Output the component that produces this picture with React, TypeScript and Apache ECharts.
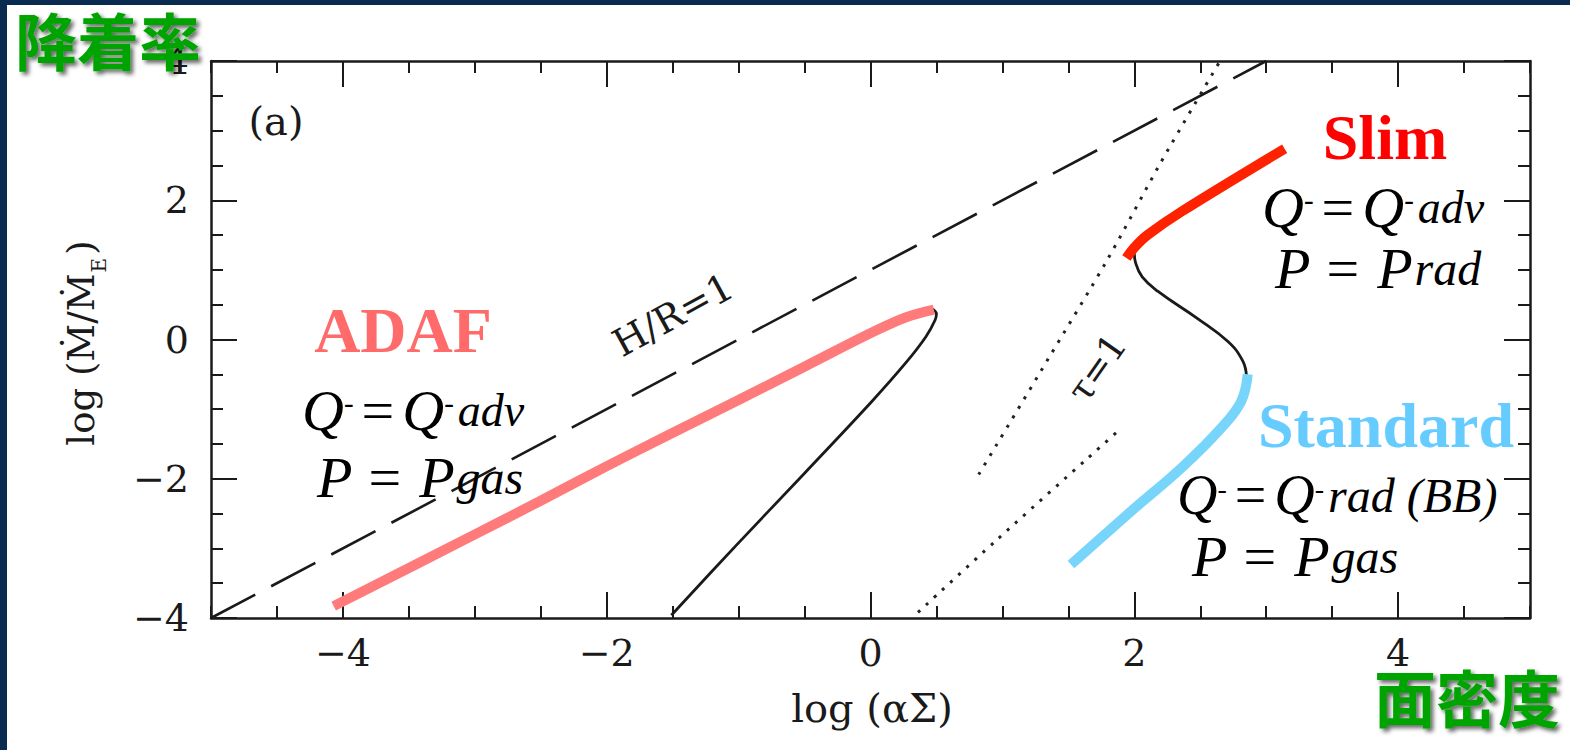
import React, { useEffect, useRef } from 'react';
import * as echarts from 'echarts';

// ---- axis ticks ----
const X_TICKS = [-4, -2, 0, 2, 4];
const Y_TICKS = [-4, -2, 0, 2, 4];

// ---- curves: [log(alpha Sigma), log(Mdot/Mdot_E)] ----
const hrLine = [[-5, -4], [3, 4]];
const tauUpper = [[0.82, -1.94], [1.35, -0.27], [1.8, 1.16], [2.2, 2.54], [2.65, 4]];
const tauLower = [[0.36, -3.92], [0.95, -2.89], [1.88, -1.31]];
const adafBranch = [[0.47, 0.44], [0.5, 0.37], [0.49, 0.28], [0.42, 0.04], [0.27, -0.33], [0.01, -0.89], [-0.5, -1.92], [-1.02, -2.96], [-1.51, -3.96]];
const adafCurve = [[-4.07, -3.83], [-3.01, -2.81], [-2.515, -2.33], [-2.01, -1.83], [-1.51, -1.35], [-1.0, -0.87], [-0.49, -0.38], [0.01, 0.1], [0.27, 0.32], [0.48, 0.43]];
const sBranch = [[2.0, 1.25], [2.01, 1.1], [2.06, 0.9], [2.18, 0.69], [2.48, 0.3], [2.71, -0.03], [2.82, -0.3], [2.85, -0.51]];
const slimCurve = [[1.94, 1.17], [2.0, 1.32], [2.1, 1.5], [2.36, 1.84], [3.14, 2.74]];
const standardCurve = [[2.86, -0.5], [2.81, -0.89], [2.66, -1.27], [2.36, -1.84], [1.98, -2.46], [1.52, -3.23]];

const SERIF = '"Liberation Serif", "Times New Roman", serif';
const AX_FONT = '"DejaVu Serif", serif';
const CJK = '"Noto Sans CJK JP", "Noto Sans CJK SC", sans-serif';
const INK = '#1a1a1a';

const fmt = (v: number) => (v < 0 ? '\u2212' + Math.abs(v) : String(v));

const richFormula = (size: number, subSize: number, eqPad: number[]) => ({
  q: { fontFamily: SERIF, fontStyle: 'italic', fontSize: size, fill: '#000' },
  s: { fontFamily: SERIF, fontSize: Math.round(size * 0.5), fill: '#000', verticalAlign: 'top', padding: [Math.round(size * 0.12), 2, 0, 0] },
  e: { fontFamily: SERIF, fontSize: size, fill: '#000', padding: eqPad },
  b: { fontFamily: SERIF, fontStyle: 'italic', fontSize: subSize, fill: '#000', padding: [0, 0, 0, 2] },
});

const formula = (x: number, y: number, text: string, size = 58, subSize = 46, eqPad = [0, 8, 0, 6]) => ({
  type: 'text', x, y, z: 50,
  style: { text, rich: richFormula(size, subSize, eqPad), align: 'left', verticalAlign: 'middle' },
});

const P_PAD = [0, 18, 0, 16];

const titleText = (x: number, y: number, text: string, fill: string) => ({
  type: 'text', x, y, z: 50,
  style: { text, fontFamily: SERIF, fontWeight: 'bold', fontSize: 64, fill, align: 'center', verticalAlign: 'middle' },
});

const greenText = (x: number, y: number, text: string) => ({
  type: 'text', x, y, z: 300,
  style: {
    text, fontFamily: CJK, fontWeight: 'bold', fontSize: 62, fill: '#00a400',
    align: 'center', verticalAlign: 'middle',
    textShadowColor: 'rgba(0,0,0,0.6)', textShadowBlur: 4, textShadowOffsetX: 3, textShadowOffsetY: 3,
  },
});

function mkX(position: string, major: boolean, labels: boolean) {
  return {
    type: 'value', min: -5, max: 5, position,
    ...(major ? {} : { interval: 0.5 }),
    axisLine: { show: major, onZero: false, lineStyle: { color: INK, width: 2.5 } },
    axisTick: major
      ? { show: true, inside: true, length: 26, customValues: X_TICKS, lineStyle: { color: INK, width: 2 } }
      : { show: true, inside: true, length: 12, lineStyle: { color: INK, width: 2 } },
    axisLabel: labels
      ? { show: true, customValues: X_TICKS, formatter: fmt, fontFamily: AX_FONT, fontSize: 38, color: INK, margin: 16 }
      : { show: false },
    splitLine: { show: false },
  };
}

function mkY(position: string, major: boolean, labels: boolean) {
  return {
    type: 'value', min: -4, max: 4, position,
    interval: major ? 2 : 0.5,
    axisLine: { show: major, onZero: false, lineStyle: { color: INK, width: 2.5 } },
    axisTick: { show: true, inside: true, length: major ? 26 : 12, lineStyle: { color: INK, width: 2 } },
    axisLabel: labels
      ? { show: true, formatter: fmt, fontFamily: AX_FONT, fontSize: 38, color: INK, margin: 22 }
      : { show: false },
    splitLine: { show: false },
  };
}

function lineSeries(data: number[][], color: string, width: number, type: any = 'solid', smooth: number | boolean = 0.4, extra: any = {}) {
  return {
    type: 'line', data, xAxisIndex: 0, yAxisIndex: 0, showSymbol: false, symbol: 'none', silent: true,
    smooth, lineStyle: { color, width, type, ...extra }, z: 5,
  };
}

export default function App() {
  const ref = useRef<HTMLDivElement>(null);
  useEffect(() => {
    if (!ref.current) return;
    const chart = echarts.init(ref.current, null, { renderer: 'svg' });
    chart.setOption({
      animation: false,
      backgroundColor: '#ffffff',
      grid: { left: 211, right: 40, top: 61, bottom: 132 },
      xAxis: [mkX('bottom', true, true), mkX('bottom', false, false), mkX('top', true, false), mkX('top', false, false)],
      yAxis: [mkY('left', true, true), mkY('left', false, false), mkY('right', true, false), mkY('right', false, false)],
      series: [
        lineSeries(hrLine, INK, 2.6, [50, 18], false),
        lineSeries(tauUpper, '#222', 3, [3, 8], 0.3),
        lineSeries(tauLower, '#222', 3, [3, 8], 0.3),
        lineSeries(adafBranch, INK, 2.8, 'solid', 0.35),
        lineSeries(adafCurve, '#ff7b7b', 10, 'solid', 0.35),
        lineSeries(sBranch, INK, 2.8, 'solid', 0.45),
        lineSeries(slimCurve, '#ff2200', 10, 'solid', 0.35),
        lineSeries(standardCurve, '#77d4fb', 10, 'solid', 0.4),
      ],
      graphic: [
        { type: 'rect', shape: { x: 0, y: 0, width: 1570, height: 5 }, style: { fill: '#082b4f' }, z: 200 },
        { type: 'rect', shape: { x: 0, y: 0, width: 7, height: 750 }, style: { fill: '#082b4f' }, z: 200 },
        greenText(108, 39, '降着率'),
        greenText(1467, 696, '面密度'),
        { type: 'text', x: 276, y: 121, z: 50, style: { text: '(a)', fontFamily: AX_FONT, fontSize: 40, fill: INK, align: 'center', verticalAlign: 'middle' } },
        { type: 'text', x: 673, y: 315, rotation: 0.5, z: 50, style: { text: 'H/R=1', fontFamily: AX_FONT, fontSize: 38, fill: INK, align: 'center', verticalAlign: 'middle' } },
        { type: 'text', x: 1097, y: 368, rotation: 0.96, z: 50, style: { text: 'τ=1', fontFamily: AX_FONT, fontSize: 36, fill: INK, align: 'center', verticalAlign: 'middle' } },
        { type: 'text', x: 872, y: 708, z: 50, style: { text: 'log (αΣ)', fontFamily: AX_FONT, fontSize: 40, fill: INK, align: 'center', verticalAlign: 'middle' } },
        {
          type: 'text', x: 86, y: 343, rotation: Math.PI / 2, z: 50,
          style: {
            text: '{a|log (Ṁ/Ṁ}{s|E}{a|)}', align: 'center', verticalAlign: 'middle',
            rich: {
              a: { fontFamily: AX_FONT, fontSize: 37, fill: INK, verticalAlign: 'top', padding: [0, 0, 9, 0] },
              s: { fontFamily: AX_FONT, fontSize: 20, fill: INK, verticalAlign: 'bottom', padding: [0, 3, 0, 1] },
            },
          },
        },
        titleText(403, 330, 'ADAF', '#ff6b6b'),
        formula(302, 410, '{q|Q}{s|-}{e|=}{q|Q}{s|-}{b|adv}'),
        formula(317, 477, '{q|P}{e|=}{q|P}{b|gas}', 58, 48, P_PAD),
        titleText(1385, 137, 'Slim', '#ff0000'),
        formula(1262, 207, '{q|Q}{s|-}{e|=}{q|Q}{s|-}{b|adv}'),
        formula(1275, 268, '{q|P}{e|=}{q|P}{b|rad}', 58, 48, P_PAD),
        titleText(1386, 425, 'Standard', '#66ccff'),
        formula(1177, 495, '{q|Q}{s|-}{e|=}{q|Q}{s|-}{b|rad (BB)}', 56, 48),
        formula(1192, 556, '{q|P}{e|=}{q|P}{b|gas}', 58, 48, P_PAD),
      ],
    });
    return () => chart.dispose();
  }, []);
  return <div ref={ref} style={{ position: 'fixed', left: 0, top: 0, width: 1570, height: 750, background: '#fff' }} />;
}
